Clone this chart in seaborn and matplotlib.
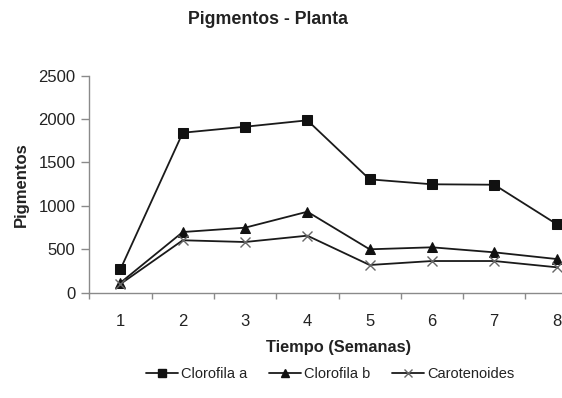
import matplotlib
matplotlib.use("Agg")
import matplotlib.pyplot as plt
import seaborn as sns
import pandas as pd

semanas = [1, 2, 3, 4, 5, 6, 7, 8]
clorofila_a = [270, 1843, 1912, 1986, 1306, 1249, 1244, 791]
clorofila_b = [115, 699, 749, 933, 500, 523, 465, 388]
carotenoides = [100, 604, 584, 657, 319, 365, 365, 293]
series_names = ["Clorofila a", "Clorofila b", "Carotenoides"]
y_ticks = [0, 500, 1000, 1500, 2000, 2500]

sns.set_theme(style="white")
plt.rcParams["font.family"] = ["Liberation Sans", "DejaVu Sans"]

fig = plt.figure(figsize=(5.62, 3.98), dpi=100)
W, H = 562, 398
left, right = 89.3, 587.7
bottom, top = 292.7, 75.7
ax = fig.add_axes([left / W, 1 - bottom / H, (right - left) / W, (bottom - top) / H])

line_color = "#1a1a1a"
styles = [
    dict(marker="s", markersize=7, markerfacecolor="#111111", markeredgecolor="#111111"),
    dict(marker="^", markersize=6.5, markerfacecolor="#111111", markeredgecolor="#111111"),
    dict(marker="x", markersize=7, markeredgecolor="#666666", markeredgewidth=1.0),
]

for name, values, st in zip(series_names, [clorofila_a, clorofila_b, carotenoides], styles):
    df = pd.DataFrame({"Semana": semanas, "Valor": values})
    sns.lineplot(data=df, x="Semana", y="Valor", ax=ax, color=line_color,
                 linewidth=1.3, label=name, legend=False, **st)

ax.set_xlim(0.5, 8.5)
ax.set_ylim(0, 2500)
ax.set_yticks(y_ticks)
ax.set_xticks(semanas)
ax.set_xticks([x + 0.5 for x in range(0, 9)], minor=True)

axis_grey = "#8a8a8a"
for side in ["top", "right"]:
    ax.spines[side].set_visible(False)
for side in ["left", "bottom"]:
    ax.spines[side].set_color(axis_grey)
    ax.spines[side].set_linewidth(1.0)

ax.tick_params(axis="y", which="major", direction="out", length=6, width=1,
               color=axis_grey, labelsize=12, labelcolor="#222222", pad=4, left=True)
ax.tick_params(axis="x", which="major", length=0, labelsize=12,
               labelcolor="#222222", pad=15)
ax.tick_params(axis="x", which="minor", direction="out", length=4, width=1,
               color=axis_grey, bottom=True)

ax.set_xlabel("Tiempo (Semanas)", fontsize=11.8, fontweight="bold", color="#222222", labelpad=8)
ax.set_ylabel("Pigmentos", fontsize=12, fontweight="bold", color="#222222", labelpad=7)

fig.text(268 / W, 1 - 20 / H, "Pigmentos - Planta", ha="center", va="center",
         fontsize=12.8, fontweight="bold", color="#222222")

handles = [
    plt.Line2D([], [], color=line_color, lw=1.3, marker="s", markersize=6,
               markerfacecolor="#111111", markeredgecolor="#111111"),
    plt.Line2D([], [], color=line_color, lw=1.3, marker="^", markersize=6,
               markerfacecolor="#111111", markeredgecolor="#111111"),
    plt.Line2D([], [], color=line_color, lw=1.3, marker="x", markersize=6,
               markeredgecolor="#666666"),
]
fig.legend(handles, series_names, loc="center", bbox_to_anchor=(330 / W, 1 - 374 / H),
           ncol=3, frameon=False, fontsize=10.5, handlelength=2.2, handletextpad=0.2,
           columnspacing=1.5, labelcolor="#222222")

fig.savefig("out.png", dpi=100)
